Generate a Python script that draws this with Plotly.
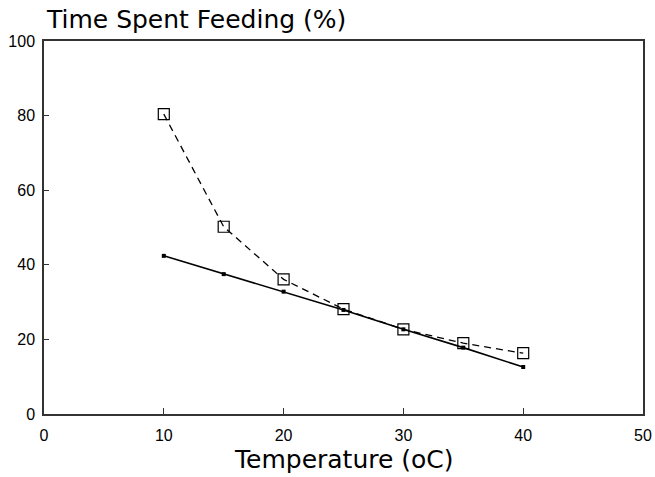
import plotly.graph_objects as go

temperature = [10, 15, 20, 25, 30, 35, 40]
observed = [80.4, 50.2, 36.1, 28.1, 22.7, 19.0, 16.3]
fitted = [42.4, 37.5, 32.8, 27.9, 22.7, 17.8, 12.6]

x_ticks = [0, 10, 20, 30, 40, 50]
y_ticks = [0, 20, 40, 60, 80, 100]

TITLE_FONT = "DejaVu Sans, Arial, sans-serif"
TICK_FONT = "Liberation Sans, Arial, sans-serif"

fig = go.Figure()
fig.add_trace(go.Scatter(
    x=temperature, y=fitted, mode="lines+markers",
    line=dict(color="black", width=1.6),
    marker=dict(symbol="square", size=4, color="black"),
    showlegend=False,
))
fig.add_trace(go.Scatter(
    x=temperature, y=observed, mode="lines+markers",
    line=dict(color="black", width=1.3, dash="7px,5px"),
    marker=dict(symbol="square-open", size=11, color="black", line=dict(width=1.2)),
    showlegend=False,
))

fig.update_layout(
    width=655, height=477,
    margin=dict(l=44, r=12, t=41, b=63, autoexpand=False),
    plot_bgcolor="white", paper_bgcolor="white",
    font=dict(family=TICK_FONT, color="black", size=16),
    annotations=[
        dict(text="Time Spent Feeding (%)", xref="paper", yref="paper",
             x=0, y=(414 - 19.5) / 373, xanchor="left", yanchor="middle",
             showarrow=False, font=dict(family=TITLE_FONT, size=25, color="black")),
        dict(text="Temperature (oC)", xref="paper", yref="paper",
             x=0.5, y=(414 - 459.5) / 373, xanchor="center", yanchor="middle",
             showarrow=False, font=dict(family=TITLE_FONT, size=25, color="black")),
    ],
)
fig.update_xaxes(
    range=[0, 50], tickvals=x_ticks, ticktext=[str(v) for v in x_ticks],
    showgrid=False, zeroline=False, automargin=False,
    showline=True, linecolor="#333", linewidth=1.5, mirror=True,
    ticks="inside", ticklen=6, tickcolor="#333", tickwidth=1.2,
    tickfont=dict(family=TICK_FONT, size=16, color="black"),
    ticklabelstandoff=6,
)
fig.update_yaxes(
    range=[0, 100], tickvals=y_ticks, ticktext=[str(v) for v in y_ticks],
    showgrid=False, zeroline=False, automargin=False,
    showline=True, linecolor="#333", linewidth=1.5, mirror=True,
    ticks="inside", ticklen=5, tickcolor="#333", tickwidth=1.2,
    tickfont=dict(family=TICK_FONT, size=16, color="black"),
    ticklabelstandoff=4,
)

fig.write_html(
    "out.html",
    config={"displayModeBar": False},
    post_script="document.body.style.margin='0';document.body.style.overflow='hidden';",
)
